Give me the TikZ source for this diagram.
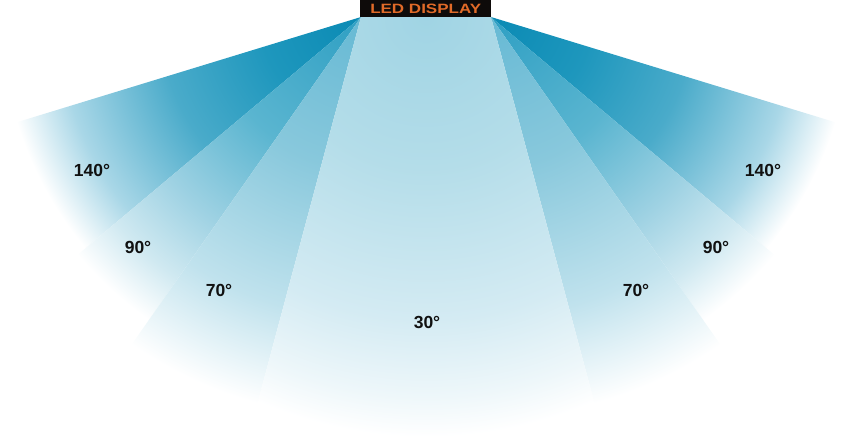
\documentclass[tikz,border=0pt]{standalone}
\usepackage{fontspec}
\setmainfont{Liberation Sans}
\usetikzlibrary{calc}
\definecolor{cA0}{HTML}{0A8AB4}
\definecolor{cA1}{HTML}{1E97BD}
\definecolor{cA2}{HTML}{4AABCA}
\definecolor{cA3}{HTML}{A9D7E7}
\definecolor{cB0}{HTML}{2E9FC3}
\definecolor{cB1}{HTML}{5AB5D0}
\definecolor{cB2}{HTML}{9FD2E3}
\definecolor{cB3}{HTML}{D0E9F1}
\definecolor{cC0}{HTML}{66B9D4}
\definecolor{cC1}{HTML}{88C8DC}
\definecolor{cC2}{HTML}{C0E2ED}
\definecolor{cD0}{HTML}{A0D4E4}
\definecolor{cD1}{HTML}{B4DDE9}
\definecolor{cD2}{HTML}{D4EBF3}
\definecolor{cD3}{HTML}{EEF7FA}
\definecolor{dispblack}{HTML}{0E0B0A}
\definecolor{ledorange}{HTML}{E06A28}
\definecolor{lbltext}{HTML}{111111}
\pgfdeclareradialshading{fadeA}{\pgfpoint{0bp}{0bp}}{color(0bp)=(cA0); color(7bp)=(cA1); color(14bp)=(cA2); color(21bp)=(cA3); color(25bp)=(white); color(50bp)=(white)}
\pgfdeclareradialshading{fadeB}{\pgfpoint{0bp}{0bp}}{color(0bp)=(cB0); color(10bp)=(cB1); color(17bp)=(cB2); color(21.6bp)=(cB3); color(25bp)=(white); color(50bp)=(white)}
\pgfdeclareradialshading{fadeC}{\pgfpoint{0bp}{0bp}}{color(0bp)=(cC0); color(9.4bp)=(cC1); color(18.7bp)=(cC2); color(25bp)=(white); color(50bp)=(white)}
\pgfdeclareradialshading{fadeD}{\pgfpoint{0bp}{0bp}}{color(0bp)=(cD0); color(9bp)=(cD1); color(18bp)=(cD2); color(22.6bp)=(cD3); color(25bp)=(white); color(50bp)=(white)}
\begin{document}
\begin{tikzpicture}[x=1pt,y=-1pt,
  lbl/.style={font=\bfseries\fontsize{17.5}{17.5}\selectfont, text=lbltext, inner sep=0pt},
  dispbox/.style={fill=dispblack, inner sep=0pt, minimum width=131pt, minimum height=17pt, text=ledorange, font=\bfseries\fontsize{13.5}{13.5}\selectfont}]
\useasboundingbox (0,0) rectangle (842,436);
\clip (0,0) rectangle (842,436);
\coordinate (L) at (361,17);
\coordinate (R) at (491,17);
\coordinate (C) at (426,17);
% left bands
\begin{scope}
\clip (L) -- ($(L)+(163:700)$) -- ($(L)+(140:700)$) -- cycle;
\shade[shading=fadeA] (L) circle[radius=360pt];
\end{scope}
\begin{scope}
\clip (L) -- ($(L)+(140:700)$) -- ($(L)+(125:700)$) -- cycle;
\shade[shading=fadeB] (L) circle[radius=370pt];
\end{scope}
\begin{scope}
\clip (L) -- ($(L)+(125:700)$) -- ($(L)+(105:700)$) -- cycle;
\shade[shading=fadeC] (L) circle[radius=400pt];
\end{scope}
% right bands
\begin{scope}
\clip (R) -- ($(R)+(17:700)$) -- ($(R)+(40:700)$) -- cycle;
\shade[shading=fadeA] (R) circle[radius=360pt];
\end{scope}
\begin{scope}
\clip (R) -- ($(R)+(40:700)$) -- ($(R)+(55:700)$) -- cycle;
\shade[shading=fadeB] (R) circle[radius=370pt];
\end{scope}
\begin{scope}
\clip (R) -- ($(R)+(55:700)$) -- ($(R)+(75:700)$) -- cycle;
\shade[shading=fadeC] (R) circle[radius=400pt];
\end{scope}
% central band
\begin{scope}
\clip (L) -- ($(L)+(105:700)$) -- ($(R)+(75:700)$) -- (R) -- cycle;
\shade[shading=fadeD] (C) circle[radius=420pt];
\end{scope}
% display
\node[dispbox, anchor=north west] (disp) at (360,0) {\scalebox{1.26}[1]{LED DISPLAY}};
% labels
\node[lbl] (l140) at (92,170) {140°};
\node[lbl] (r140) at (763,170) {140°};
\node[lbl] (l90) at (138,247) {90°};
\node[lbl] (r90) at (716,247) {90°};
\node[lbl] (l70) at (219,290) {70°};
\node[lbl] (r70) at (636,290) {70°};
\node[lbl] (c30) at (427,322) {30°};
\end{tikzpicture}
\end{document}
